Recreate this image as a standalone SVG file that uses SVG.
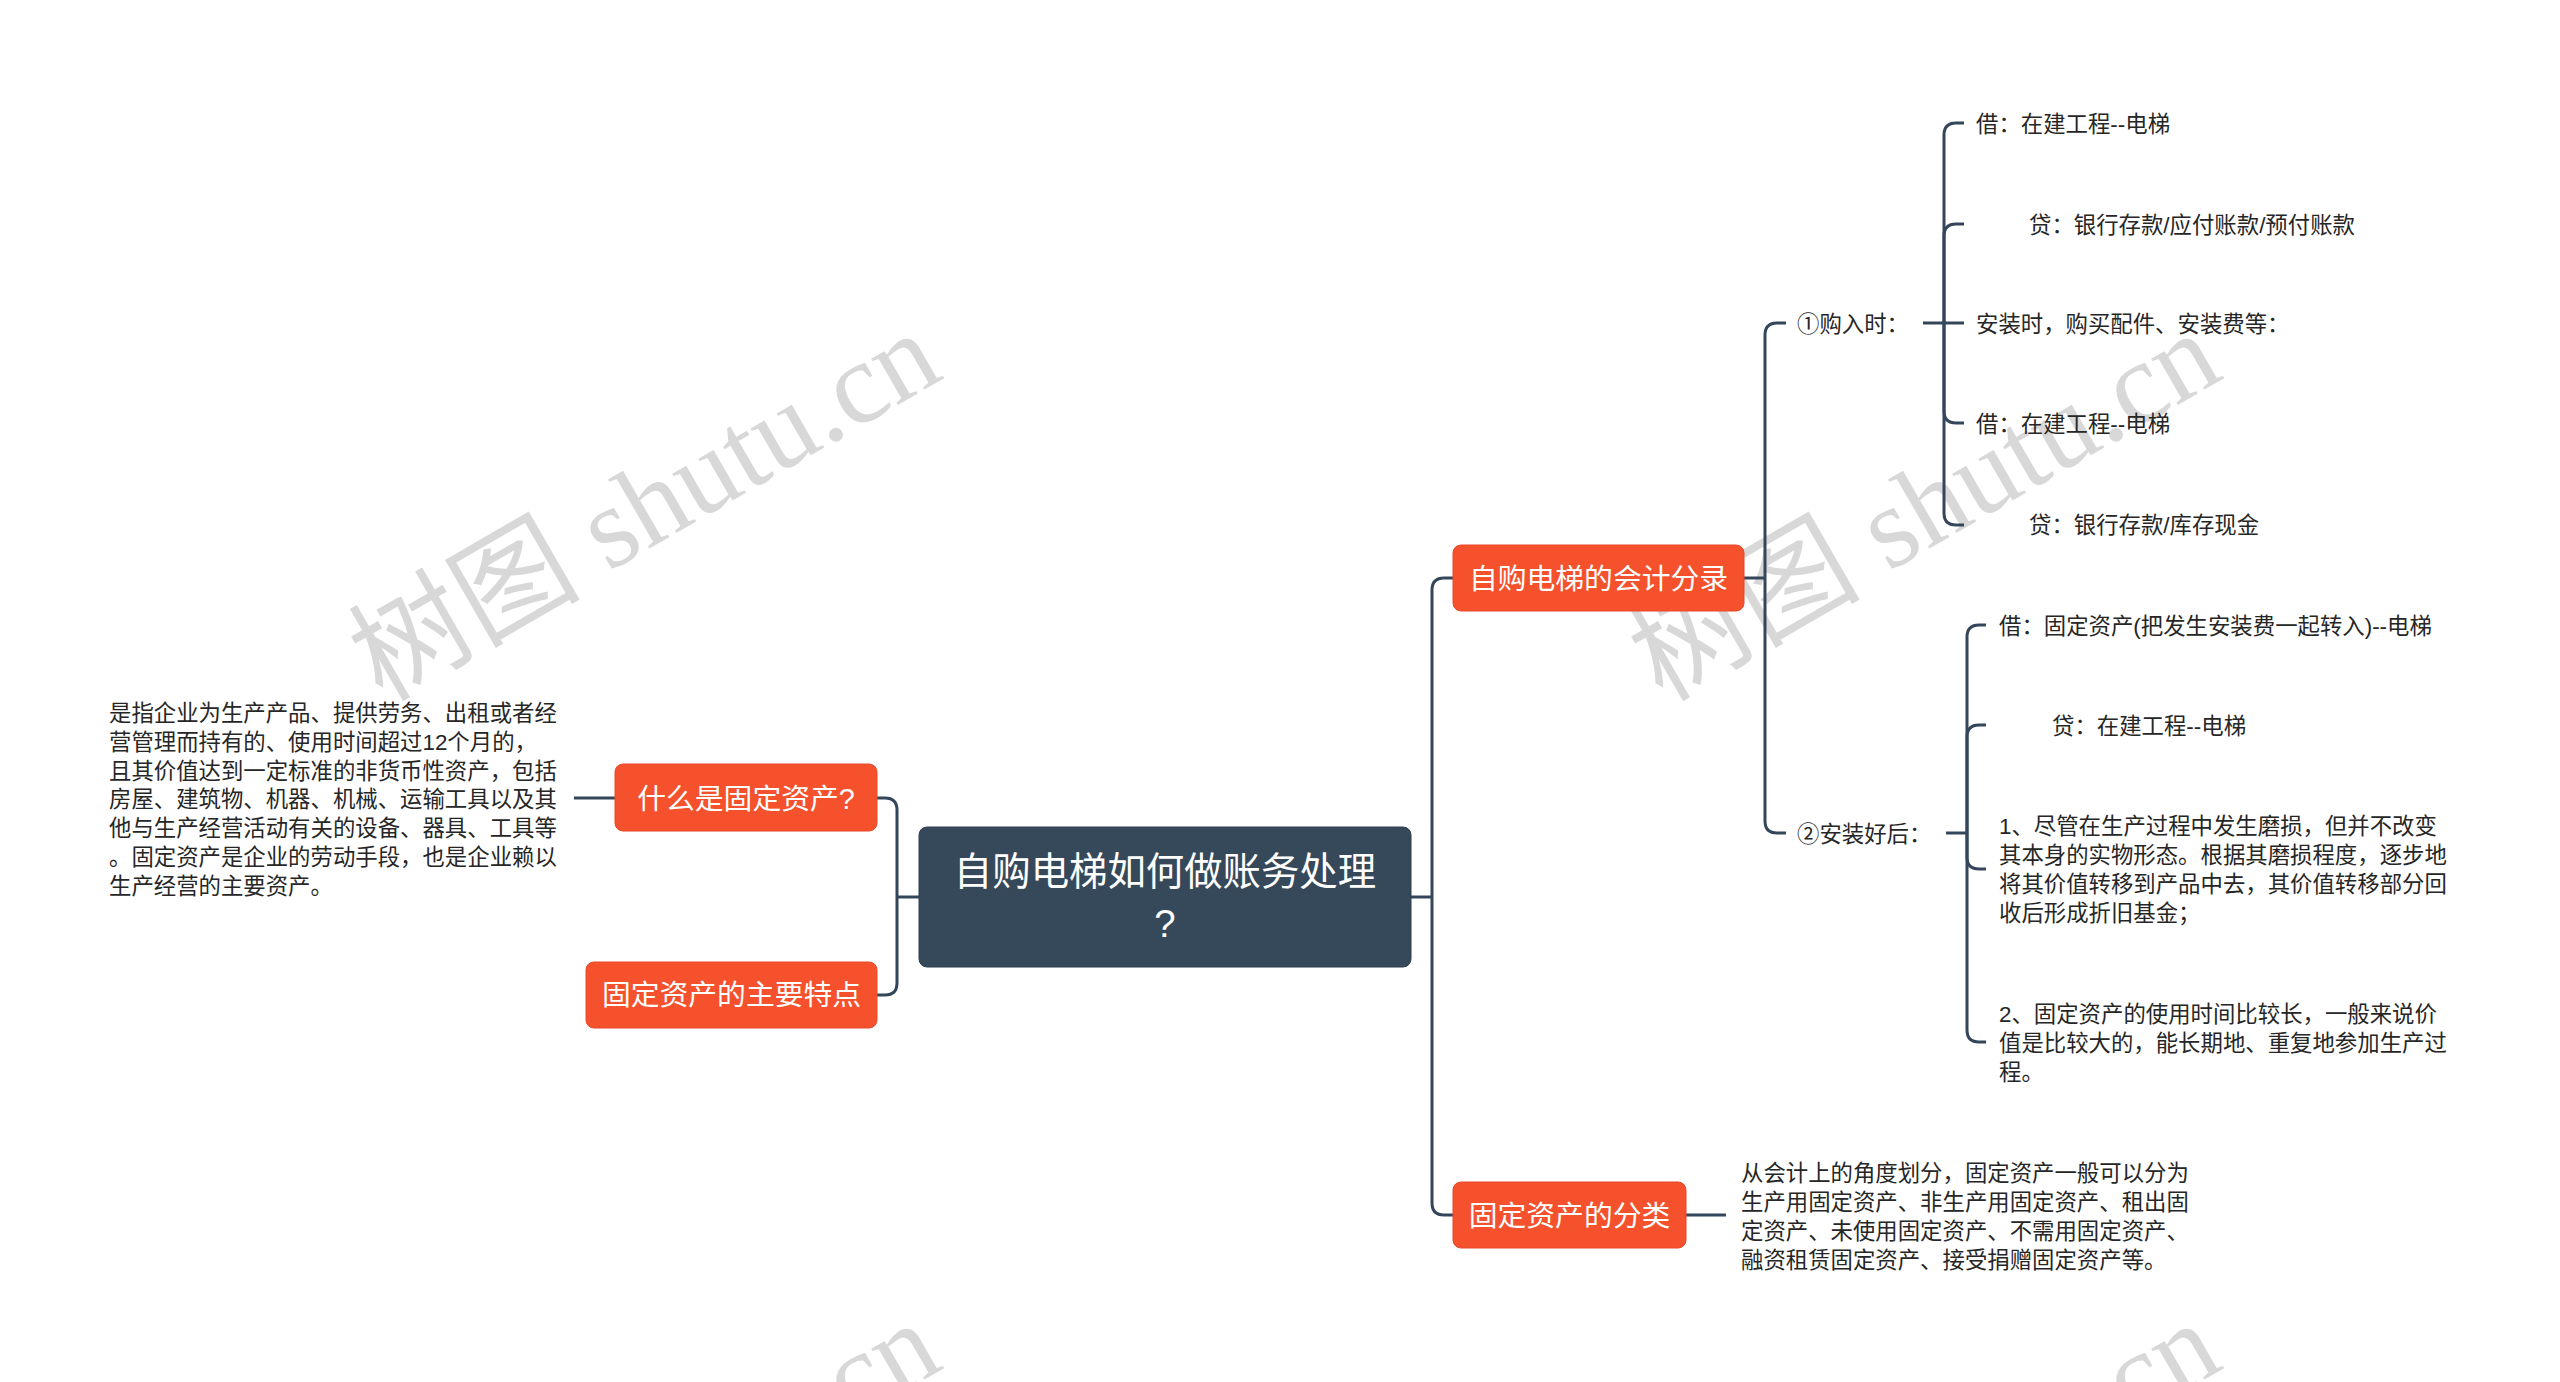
<svg xmlns="http://www.w3.org/2000/svg" width="2560" height="1382" viewBox="0 0 2560 1382">
<style>
.wm{font-family:"Liberation Serif","Noto Sans CJK SC",serif;font-size:116px;fill:#d8d8d8;}
.t{font-family:"Liberation Sans","Noto Sans CJK SC",sans-serif;font-size:22.4px;fill:#262626;}
.nt{font-family:"Liberation Sans","Noto Sans CJK SC",sans-serif;font-size:28.8px;fill:#ffffff;text-anchor:middle;}
.ct{font-family:"Liberation Sans","Noto Sans CJK SC",sans-serif;font-size:38.4px;fill:#ffffff;text-anchor:middle;}
.on{fill:#f5512d;stroke:#e8492a;stroke-width:1;}
.cn{fill:#36495b;stroke:#2e3f50;stroke-width:1;}
.ln{fill:none;stroke:#34475a;stroke-width:3;}
</style>
<rect x="0" y="0" width="2560" height="1382" fill="#ffffff"/>
<g id="watermarks">
<text class="wm" text-anchor="middle" transform="translate(664,540) rotate(-30)">树图 shutu.cn</text>
<text class="wm" text-anchor="middle" transform="translate(1944,540) rotate(-30)">树图 shutu.cn</text>
<text class="wm" text-anchor="middle" transform="translate(664,1530) rotate(-30)">树图 shutu.cn</text>
<text class="wm" text-anchor="middle" transform="translate(1944,1530) rotate(-30)">树图 shutu.cn</text>
</g>
<g id="connectors">
<path class="ln" d="M919 897 H897"/>
<path class="ln" d="M897 897 V810 Q897 798 885 798 H877"/>
<path class="ln" d="M897 897 V983 Q897 995 885 995 H877"/>
<path class="ln" d="M615 798 H574"/>
<path class="ln" d="M1411 897 H1432"/>
<path class="ln" d="M1432 897 V590 Q1432 578 1444 578 H1453"/>
<path class="ln" d="M1432 897 V1203 Q1432 1215 1444 1215 H1453"/>
<path class="ln" d="M1686 1215 H1726"/>
<path class="ln" d="M1744 578 H1765"/>
<path class="ln" d="M1765 578 V335 Q1765 323 1777 323 H1786"/>
<path class="ln" d="M1765 578 V821 Q1765 833 1777 833 H1786"/>
<path class="ln" d="M1923 323 H1964"/>
<path class="ln" d="M1944 323 V135 Q1944 123 1956 123 H1964"/>
<path class="ln" d="M1944 323 V236 Q1944 224 1956 224 H1964"/>
<path class="ln" d="M1944 323 V411 Q1944 423 1956 423 H1964"/>
<path class="ln" d="M1944 323 V513 Q1944 525 1956 525 H1964"/>
<path class="ln" d="M1946 833 H1967"/>
<path class="ln" d="M1967 833 V637 Q1967 625 1979 625 H1986"/>
<path class="ln" d="M1967 833 V737 Q1967 725 1979 725 H1986"/>
<path class="ln" d="M1967 833 V857 Q1967 869 1979 869 H1986"/>
<path class="ln" d="M1967 833 V1030 Q1967 1042 1979 1042 H1986"/>
</g>
<g id="n-root">
<rect class="cn" x="919" y="827" width="492" height="140" rx="8"/>
<text class="ct" x="1165" y="885">自购电梯如何做账务处理</text>
<text class="ct" x="1165" y="937">?</text>
</g>
<g id="n-what">
<rect class="on" x="615" y="764" width="262" height="67" rx="8"/>
<text class="nt" x="746" y="809">什么是固定资产?</text>
</g>
<g id="n-what-desc">
<text class="t" x="109" y="721">是指企业为生产产品、提供劳务、出租或者经</text>
<text class="t" x="109" y="749.8">营管理而持有的、使用时间超过12个月的，</text>
<text class="t" x="109" y="778.6">且其价值达到一定标准的非货币性资产，包括</text>
<text class="t" x="109" y="807.4">房屋、建筑物、机器、机械、运输工具以及其</text>
<text class="t" x="109" y="836.2">他与生产经营活动有关的设备、器具、工具等</text>
<text class="t" x="109" y="865">。固定资产是企业的劳动手段，也是企业赖以</text>
<text class="t" x="109" y="893.8">生产经营的主要资产。</text>
</g>
<g id="n-feature">
<rect class="on" x="586" y="962" width="291" height="66" rx="8"/>
<text class="nt" x="731.5" y="1005">固定资产的主要特点</text>
</g>
<g id="n-entry">
<rect class="on" x="1453" y="545" width="291" height="66" rx="8"/>
<text class="nt" x="1598.5" y="589">自购电梯的会计分录</text>
</g>
<g id="n-class">
<rect class="on" x="1453" y="1182" width="233" height="66" rx="8"/>
<text class="nt" x="1569.5" y="1226">固定资产的分类</text>
</g>
<g id="n-class-desc">
<text class="t" x="1741" y="1180.5">从会计上的角度划分，固定资产一般可以分为</text>
<text class="t" x="1741" y="1209.5">生产用固定资产、非生产用固定资产、租出固</text>
<text class="t" x="1741" y="1238.5">定资产、未使用固定资产、不需用固定资产、</text>
<text class="t" x="1741" y="1267.5">融资租赁固定资产、接受捐赠固定资产等。</text>
</g>
<g id="n-buy">
<text class="t" x="1797" y="331.5">①购入时：</text>
</g>
<g id="n-buy-1"><text class="t" x="1976" y="131.5">借：在建工程--电梯</text></g>
<g id="n-buy-2"><text class="t" x="2029" y="232.5">贷：银行存款/应付账款/预付账款</text></g>
<g id="n-buy-3"><text class="t" x="1976" y="331.5">安装时，购买配件、安装费等：</text></g>
<g id="n-buy-4"><text class="t" x="1976" y="431.5">借：在建工程--电梯</text></g>
<g id="n-buy-5"><text class="t" x="2029" y="532.5">贷：银行存款/库存现金</text></g>
<g id="n-done">
<text class="t" x="1797" y="841.5">②安装好后：</text>
</g>
<g id="n-done-1"><text class="t" x="1999" y="633.5">借：固定资产(把发生安装费一起转入)--电梯</text></g>
<g id="n-done-2"><text class="t" x="2052" y="733.5">贷：在建工程--电梯</text></g>
<g id="n-done-3">
<text class="t" x="1999" y="834">1、尽管在生产过程中发生磨损，但并不改变</text>
<text class="t" x="1999" y="863">其本身的实物形态。根据其磨损程度，逐步地</text>
<text class="t" x="1999" y="892">将其价值转移到产品中去，其价值转移部分回</text>
<text class="t" x="1999" y="920.5">收后形成折旧基金；</text>
</g>
<g id="n-done-4">
<text class="t" x="1999" y="1021.5">2、固定资产的使用时间比较长，一般来说价</text>
<text class="t" x="1999" y="1050.5">值是比较大的，能长期地、重复地参加生产过</text>
<text class="t" x="1999" y="1079.5">程。</text>
</g>
</svg>
